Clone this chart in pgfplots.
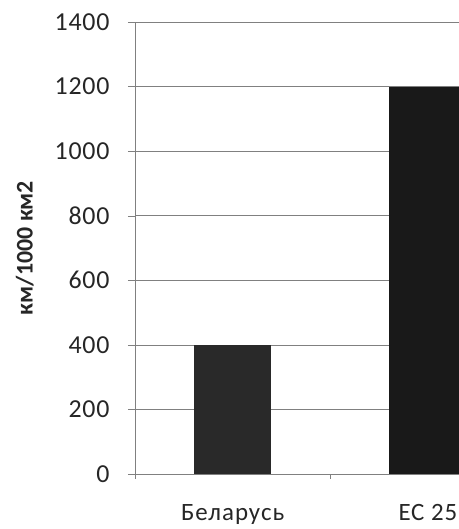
\documentclass[border=0pt]{standalone}
\usepackage{fontspec}
\setmainfont{Carlito}
\usepackage{pgfplots}
\pgfplotsset{compat=1.18}
\begin{document}
\begin{tikzpicture}
\begin{axis}[
  at={(135bp,55bp)}, anchor=south west,
  scale only axis, width=324bp, height=452bp,
  xmin=-0.5, xmax=1.159, ymin=0, ymax=1400,
  ytick={0,200,...,1400},
  xtick={0,1}, xticklabels={Беларусь, ЕС 25},
  minor xtick={-0.5,0.5},
  axis lines*=left,
  axis line style={draw=black!50, -},
  tick align=outside,
  major tick length=7bp, minor tick length=5bp,
  major x tick style={draw=none},
  minor x tick style={draw=black!50},
  major y tick style={draw=black!50},
  ymajorgrids, grid style={draw=black!50, line width=0.5bp},
  /pgf/number format/assume math mode=true,
  /pgf/number format/1000 sep={},
  yticklabel style={font=\fontsize{26}{28}\selectfont\addfontfeatures{LetterSpace=3}, text=black!85, xshift=-15bp},
  xticklabel style={font=\fontsize{25}{27}\selectfont\addfontfeatures{LetterSpace=4}, text=black!85, yshift=-20bp},
  ylabel={км/1000 км2},
  ylabel style={font=\bfseries\fontsize{24}{26}\selectfont, text=black!85,
    at={(axis description cs:-0.34,0.5)}, anchor=center},
  clip=true,
]
\addplot[ybar, bar shift=0pt, bar width=0.394, fill=black!84, draw=none] coordinates {(0,400)};
\addplot[ybar, bar shift=0pt, bar width=0.394, fill=black!90, draw=none] coordinates {(1,1200)};
\end{axis}
\pgfresetboundingbox
\path (0,0) rectangle (459bp,529bp);
\end{tikzpicture}
\end{document}
